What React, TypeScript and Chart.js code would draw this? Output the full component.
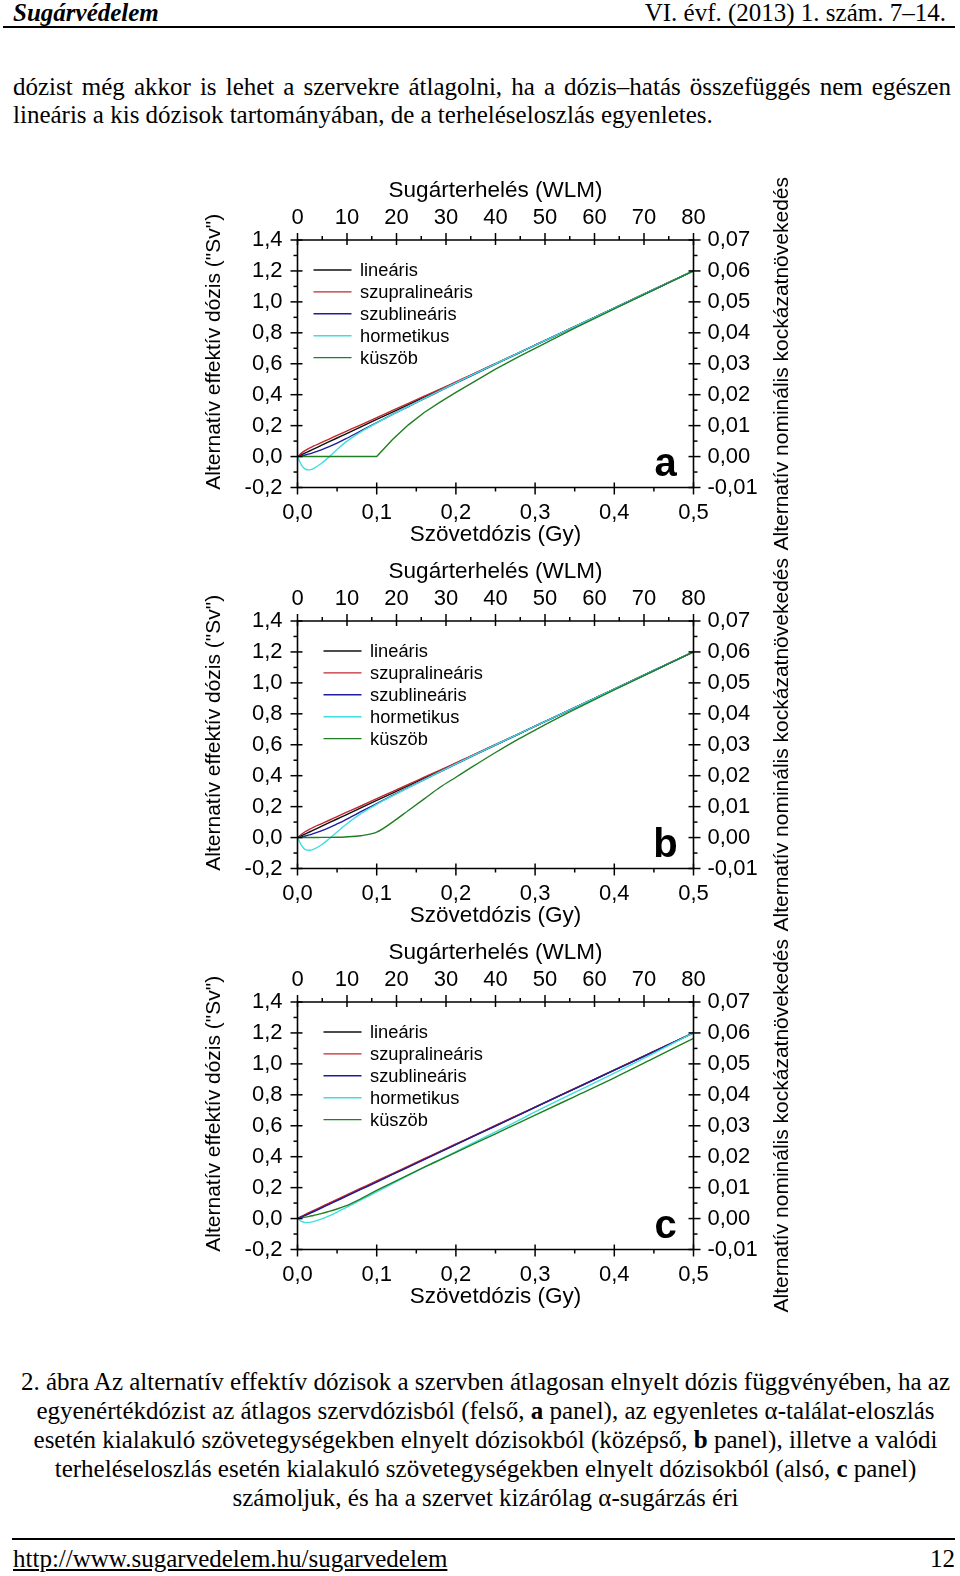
import React, { useEffect, useRef } from 'react';
import { Chart, registerables } from 'chart.js';

Chart.register(...registerables);

// ---------------- data ----------------
const DOSE = [0, 0.005, 0.01, 0.015, 0.02, 0.03, 0.04, 0.05, 0.06, 0.08, 0.1, 0.12, 0.14, 0.16, 0.18, 0.2, 0.22, 0.25, 0.28, 0.3, 0.35, 0.4, 0.45, 0.5];

const LIN = [0, 0.012, 0.024, 0.036, 0.048, 0.072, 0.096, 0.12, 0.144, 0.192, 0.24, 0.288, 0.336, 0.384, 0.432, 0.48, 0.528, 0.6, 0.672, 0.72, 0.84, 0.96, 1.08, 1.2];

// panel a
const SUPRA_A = [0, 0.022, 0.04, 0.054, 0.067, 0.09, 0.113, 0.137, 0.16, 0.205, 0.252, 0.298, 0.344, 0.39, 0.436, 0.483, 0.53, 0.601, 0.672, 0.72, 0.84, 0.96, 1.08, 1.2];
const SUB_A = [0, 0.004, 0.01, 0.017, 0.025, 0.043, 0.064, 0.087, 0.112, 0.166, 0.219, 0.272, 0.323, 0.374, 0.424, 0.474, 0.524, 0.598, 0.671, 0.72, 0.84, 0.96, 1.08, 1.2];
const HORM_A = [0, -0.055, -0.082, -0.086, -0.078, -0.045, -0.002, 0.045, 0.09, 0.16, 0.218, 0.272, 0.325, 0.376, 0.427, 0.477, 0.527, 0.6, 0.672, 0.72, 0.84, 0.96, 1.08, 1.2];
const THR_A = [0, 0, 0, 0, 0, 0, 0, 0, 0, 0, 0, 0.11, 0.205, 0.285, 0.352, 0.415, 0.475, 0.565, 0.648, 0.7, 0.83, 0.955, 1.078, 1.2];

// panel b
const SUPRA_B = [0, 0.021, 0.039, 0.053, 0.066, 0.089, 0.112, 0.136, 0.159, 0.204, 0.251, 0.297, 0.343, 0.39, 0.436, 0.483, 0.53, 0.601, 0.672, 0.72, 0.84, 0.96, 1.08, 1.2];
const SUB_B = [0, 0.004, 0.01, 0.017, 0.025, 0.043, 0.064, 0.088, 0.113, 0.167, 0.22, 0.273, 0.324, 0.375, 0.425, 0.475, 0.525, 0.598, 0.671, 0.72, 0.84, 0.96, 1.08, 1.2];
const HORM_B = [0, -0.05, -0.078, -0.082, -0.076, -0.048, -0.008, 0.036, 0.08, 0.155, 0.215, 0.27, 0.323, 0.375, 0.426, 0.477, 0.527, 0.6, 0.672, 0.72, 0.84, 0.96, 1.08, 1.2];
const THR_B = [0, 0, 0, 0, 0, 0.001, 0.001, 0.002, 0.004, 0.012, 0.035, 0.1, 0.175, 0.25, 0.325, 0.39, 0.455, 0.55, 0.64, 0.695, 0.828, 0.955, 1.078, 1.2];

// panel c
const SUPRA_C = [0, 0.014, 0.027, 0.04, 0.052, 0.076, 0.1, 0.124, 0.148, 0.196, 0.244, 0.291, 0.339, 0.387, 0.434, 0.482, 0.53, 0.602, 0.673, 0.721, 0.841, 0.961, 1.08, 1.2];
const SUB_C = [0, 0.01, 0.021, 0.032, 0.044, 0.068, 0.092, 0.116, 0.14, 0.188, 0.236, 0.285, 0.333, 0.381, 0.43, 0.478, 0.526, 0.598, 0.67, 0.719, 0.839, 0.959, 1.079, 1.2];
const HORM_C = [0, -0.018, -0.026, -0.025, -0.02, -0.004, 0.018, 0.042, 0.068, 0.12, 0.172, 0.226, 0.279, 0.331, 0.382, 0.433, 0.484, 0.56, 0.637, 0.69, 0.815, 0.94, 1.07, 1.2];
const THR_C = [0, 0.004, 0.009, 0.014, 0.02, 0.032, 0.046, 0.062, 0.08, 0.128, 0.182, 0.233, 0.283, 0.332, 0.38, 0.428, 0.476, 0.548, 0.62, 0.668, 0.789, 0.91, 1.037, 1.165];

const SERIES_NAMES = ['lineáris', 'szupralineáris', 'szublineáris', 'hormetikus', 'küszöb'];
const SERIES_COLORS = ['#111111', '#c0282e', '#1e1e9c', '#40dede', '#1f7f22'];

const GY_MIN = 0, GY_MAX = 0.5, GY_STEP = 0.1;
const WLM_MIN = 0, WLM_MAX = 80, WLM_STEP = 10;
const SV_MIN = -0.2, SV_MAX = 1.4, SV_STEP = 0.2;
const RISK_MIN = -0.01, RISK_MAX = 0.07, RISK_STEP = 0.01;

const TITLE_TOP = 'Sugárterhelés (WLM)';
const TITLE_BOTTOM = 'Szövetdózis (Gy)';
const TITLE_LEFT = 'Alternatív effektív dózis ("Sv")';
const TITLE_RIGHT = 'Alternatív nominális kockázatnövekedés';

const SANS = '"Liberation Sans", Arial, Helvetica, sans-serif';
const SERIF = '"Liberation Serif", "Times New Roman", Times, serif';

const comma = (v: number, d: number) => {
  const x = Math.abs(v) < 1e-9 ? 0 : v;
  return x.toFixed(d).replace('.', ',');
};

// ---------------- plugin: frame, ticks, titles, legend, letter ----------------
const paperPlugin = {
  id: 'paper',
  afterDraw(chart: any) {
    const o = chart.options.plugins.paper;
    const { ctx, chartArea } = chart;
    const { left, right, top, bottom } = chartArea;
    const sx = chart.scales.x, sx2 = chart.scales.x2, sy = chart.scales.y, sy2 = chart.scales.y2;
    ctx.save();
    ctx.strokeStyle = '#000';
    ctx.fillStyle = '#000';
    ctx.lineWidth = 1.6;
    ctx.beginPath();
    ctx.rect(left, top, right - left, bottom - top);
    ctx.stroke();

    const seg = (x1: number, y1: number, x2: number, y2: number) => {
      ctx.beginPath();
      ctx.moveTo(x1, y1);
      ctx.lineTo(x2, y2);
      ctx.stroke();
    };
    const vals = (scale: any) => {
      const t = scale.ticks.map((k: any) => k.value);
      const m: number[] = [];
      for (let i = 0; i < t.length - 1; i++) m.push((t[i] + t[i + 1]) / 2);
      return [t, m];
    };
    const MO = 7, MI = 5, NO = 4;
    ctx.lineWidth = 1.5;
    let [maj, min] = vals(sx);
    maj.forEach((v: number) => { const p = sx.getPixelForValue(v); seg(p, bottom - MI, p, bottom + MO); });
    min.forEach((v: number) => { const p = sx.getPixelForValue(v); seg(p, bottom, p, bottom + NO); });
    [maj, min] = vals(sx2);
    maj.forEach((v: number) => { const p = sx2.getPixelForValue(v); seg(p, top + MI, p, top - MO); });
    min.forEach((v: number) => { const p = sx2.getPixelForValue(v); seg(p, top, p, top - NO); });
    [maj, min] = vals(sy);
    maj.forEach((v: number) => { const p = sy.getPixelForValue(v); seg(left - MO, p, left + MI, p); });
    min.forEach((v: number) => { const p = sy.getPixelForValue(v); seg(left - NO, p, left, p); });
    [maj, min] = vals(sy2);
    maj.forEach((v: number) => { const p = sy2.getPixelForValue(v); seg(right - MI, p, right + MO, p); });
    min.forEach((v: number) => { const p = sy2.getPixelForValue(v); seg(right, p, right + NO, p); });

    // titles
    const cx = (left + right) / 2;
    const cy = (top + bottom) / 2;
    ctx.font = `22.5px ${SANS}`;
    ctx.textAlign = 'center';
    ctx.textBaseline = 'middle';
    ctx.fillText(TITLE_TOP, cx, top - 49);
    ctx.fillText(TITLE_BOTTOM, cx, bottom + 47);
    ctx.font = `21px ${SANS}`;
    ctx.save();
    ctx.translate(left - 83.5, cy - 12);
    ctx.rotate(-Math.PI / 2);
    ctx.fillText(TITLE_LEFT, 0, 0);
    ctx.restore();
    ctx.save();
    ctx.translate(right + 88.5, cy);
    ctx.rotate(-Math.PI / 2);
    ctx.fillText(TITLE_RIGHT, 0, 0);
    ctx.restore();

    // legend
    ctx.font = `18.3px ${SANS}`;
    ctx.textAlign = 'left';
    ctx.textBaseline = 'middle';
    ctx.lineWidth = 1.4;
    SERIES_NAMES.forEach((name, i) => {
      const y = top + 30 + i * 21.9;
      const x0 = left + o.legendDx;
      ctx.strokeStyle = SERIES_COLORS[i];
      seg(x0, y, x0 + 38, y);
      ctx.fillStyle = '#000';
      ctx.fillText(name, x0 + 46.5, y + 1);
    });

    // panel letter
    ctx.font = `bold 40px ${SANS}`;
    ctx.textAlign = 'center';
    ctx.textBaseline = 'alphabetic';
    ctx.fillText(o.letter, right - 28, bottom - 12);
    ctx.restore();
  },
};

type PanelProps = {
  top: number;
  letter: string;
  legendDx: number;
  series: number[][];
  thrTension: number;
};

const CANVAS_LEFT = 180;
const CANVAS_W = 640;
const CANVAS_H = 440;
const AREA_TOP = 80;
const AREA_H = 247.5;
const AREA_LEFT = 117.5;
const AREA_RIGHT = 126.5;

function Panel({ top, letter, legendDx, series, thrTension }: PanelProps) {
  const ref = useRef<HTMLCanvasElement | null>(null);
  useEffect(() => {
    if (!ref.current) return;
    const datasets = series.map((arr, i) => ({
      label: SERIES_NAMES[i],
      data: DOSE.map((d, k) => ({ x: d, y: arr[k] })),
      borderColor: SERIES_COLORS[i],
      borderWidth: 1.4,
      pointRadius: 0,
      fill: false,
      cubicInterpolationMode: i === 4 && thrTension === 0 ? 'default' : 'monotone',
      tension: i === 4 && thrTension === 0 ? 0 : 0.4,
      order: 4 - i,
    }));
    const tickFont = { family: SANS, size: 22 };
    const chart = new Chart(ref.current, {
      type: 'line',
      data: { datasets } as any,
      plugins: [paperPlugin],
      options: {
        animation: false,
        responsive: false,
        devicePixelRatio: 1,
        layout: { padding: 0 },
        plugins: {
          legend: { display: false },
          tooltip: { enabled: false },
          paper: { letter, legendDx },
        } as any,
        scales: {
          x: {
            type: 'linear',
            position: 'bottom',
            min: GY_MIN,
            max: GY_MAX,
            grid: { display: false, drawTicks: false },
            border: { display: false },
            ticks: { stepSize: GY_STEP, padding: 12, color: '#000', font: tickFont, autoSkip: false, maxRotation: 0, callback: (v: any) => comma(Number(v), 1) },
            afterFit: (s: any) => { s.height = CANVAS_H - AREA_TOP - AREA_H; },
          },
          x2: {
            type: 'linear',
            axis: 'x',
            position: 'top',
            min: WLM_MIN,
            max: WLM_MAX,
            grid: { display: false, drawTicks: false },
            border: { display: false },
            ticks: { stepSize: WLM_STEP, padding: 9, color: '#000', font: tickFont, autoSkip: false, maxRotation: 0, callback: (v: any) => String(Math.round(Number(v))) },
            afterFit: (s: any) => { s.height = AREA_TOP; },
          },
          y: {
            type: 'linear',
            position: 'left',
            min: SV_MIN,
            max: SV_MAX,
            grid: { display: false, drawTicks: false },
            border: { display: false },
            ticks: { stepSize: SV_STEP, padding: 15, color: '#000', font: tickFont, autoSkip: false, callback: (v: any) => comma(Number(v), 1) },
            afterFit: (s: any) => { s.width = AREA_LEFT; },
          },
          y2: {
            type: 'linear',
            axis: 'y',
            position: 'right',
            min: RISK_MIN,
            max: RISK_MAX,
            grid: { display: false, drawTicks: false },
            border: { display: false },
            ticks: { stepSize: RISK_STEP, padding: 14, color: '#000', font: tickFont, autoSkip: false, callback: (v: any) => comma(Number(v), 2) },
            afterFit: (s: any) => { s.width = AREA_RIGHT; },
          },
        } as any,
      },
    } as any);
    return () => chart.destroy();
  }, []);
  return (
    <canvas
      ref={ref}
      width={CANVAS_W}
      height={CANVAS_H}
      style={{ position: 'absolute', left: CANVAS_LEFT, top: top - AREA_TOP, width: CANVAS_W, height: CANVAS_H }}
    />
  );
}

const BODY_LINE_1 = 'dózist még akkor is lehet a szervekre átlagolni, ha a dózis–hatás összefüggés nem egészen';
const BODY_LINE_2 = 'lineáris a kis dózisok tartományában, de a terheléseloszlás egyenletes.';

export default function App() {
  const abs = (l: number, t: number, extra: any = {}) => ({ position: 'absolute' as const, left: l, top: t, ...extra });
  return (
    <div style={{ position: 'absolute', left: 0, top: 0, width: 960, height: 1576, background: '#fff', overflow: 'hidden', fontFamily: SERIF, color: '#000' }}>
      {/* header */}
      <div style={abs(13, 0, { fontSize: 25, lineHeight: '25px', fontWeight: 'bold', fontStyle: 'italic', whiteSpace: 'nowrap' })}>Sugárvédelem</div>
      <div style={abs(600, 0, { width: 346, textAlign: 'right', fontSize: 25, lineHeight: '25px', whiteSpace: 'nowrap' })}>VI. évf. (2013) 1. szám. 7–14.</div>
      <div style={abs(3, 26, { width: 952, height: 2, background: '#000' })} />

      {/* body text */}
      <div style={abs(13, 74, { width: 938, display: 'flex', justifyContent: 'space-between', fontSize: 25, lineHeight: '25px', whiteSpace: 'nowrap' })}>
        {BODY_LINE_1.split(' ').map((w, i) => <span key={i}>{w}</span>)}
      </div>
      <div style={abs(13, 102, { fontSize: 25, lineHeight: '25px', whiteSpace: 'nowrap' })}>{BODY_LINE_2}</div>

      {/* charts */}
      <Panel top={240} letter="a" legendDx={16} series={[LIN, SUPRA_A, SUB_A, HORM_A, THR_A]} thrTension={0} />
      <Panel top={621} letter="b" legendDx={26} series={[LIN, SUPRA_B, SUB_B, HORM_B, THR_B]} thrTension={1} />
      <Panel top={1002} letter="c" legendDx={26} series={[LIN, SUPRA_C, SUB_C, HORM_C, THR_C]} thrTension={1} />

      {/* caption */}
      <div style={abs(13, 1367, { width: 945, textAlign: 'center', fontSize: 25, lineHeight: '29px', whiteSpace: 'nowrap' })}>
        2. ábra Az alternatív effektív dózisok a szervben átlagosan elnyelt dózis függvényében, ha az<br />
        egyenértékdózist az átlagos szervdózisból (felső, <b>a</b> panel), az egyenletes α-találat-eloszlás<br />
        esetén kialakuló szövetegységekben elnyelt dózisokból (középső, <b>b</b> panel), illetve a valódi<br />
        terheléseloszlás esetén kialakuló szövetegységekben elnyelt dózisokból (alsó, <b>c</b> panel)<br />
        számoljuk, és ha a szervet kizárólag α-sugárzás éri
      </div>

      {/* footer */}
      <div style={abs(12, 1538, { width: 943, height: 2, background: '#000' })} />
      <div style={abs(13, 1546, { fontSize: 25, lineHeight: '25px', textDecoration: 'underline', whiteSpace: 'nowrap' })}>http://www.sugarvedelem.hu/sugarvedelem</div>
      <div style={abs(900, 1546, { width: 55, textAlign: 'right', fontSize: 25, lineHeight: '25px' })}>12</div>
    </div>
  );
}
